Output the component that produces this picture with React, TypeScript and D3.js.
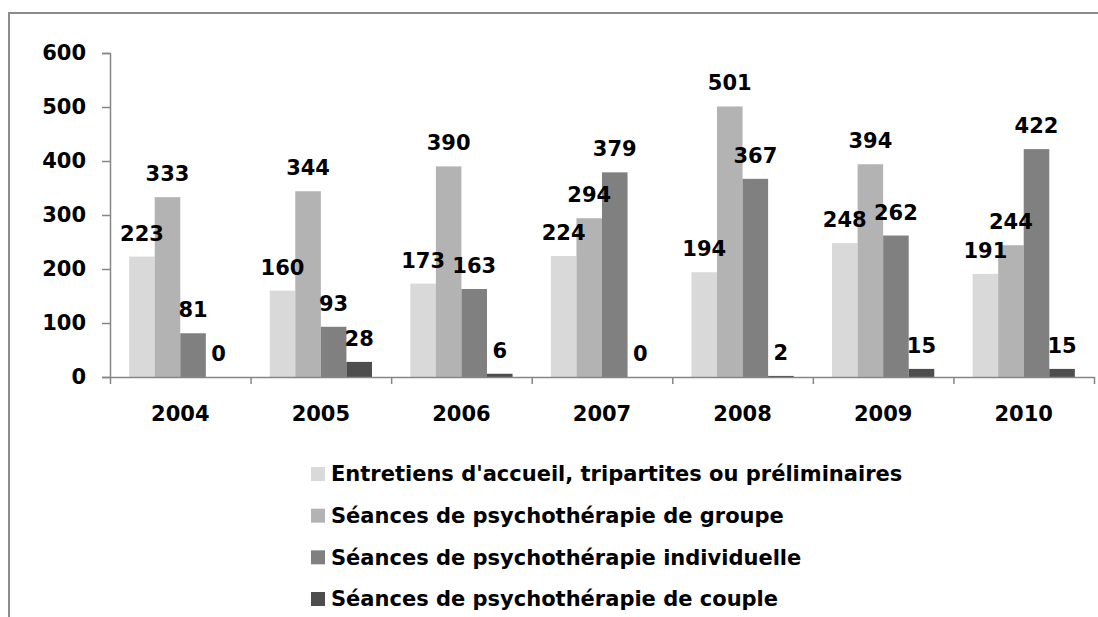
import React, { useRef, useEffect } from 'react';
import * as d3 from 'd3';

const years = ['2004', '2005', '2006', '2007', '2008', '2009', '2010'];
const seriesNames = [
  "Entretiens d'accueil, tripartites ou préliminaires",
  'Séances de psychothérapie de groupe',
  'Séances de psychothérapie individuelle',
  'Séances de psychothérapie de couple',
];
const entretiens = [223, 160, 173, 224, 194, 248, 191];
const groupe = [333, 344, 390, 294, 501, 394, 244];
const individuelle = [81, 93, 163, 379, 367, 262, 422];
const couple = [0, 28, 6, 0, 2, 15, 15];
const yTicks = [0, 100, 200, 300, 400, 500, 600];
const colors = ['#d9d9d9', '#b3b3b3', '#808080', '#4d4d4d'];

const WIDTH = 1098;
const HEIGHT = 617;
const FONT = '"DejaVu Sans", Verdana, sans-serif';

function App() {
  const ref = useRef<SVGSVGElement>(null);

  useEffect(() => {
    const svg = d3.select(ref.current);
    svg.selectAll('*').remove();

    const allSeries = [entretiens, groupe, individuelle, couple];

    const x = d3.scaleBand().domain(years).range([110, 1094]).padding(0);
    const inner = d3
      .scaleBand()
      .domain(d3.range(4).map(String))
      .range([0, x.bandwidth()])
      .paddingInner(0)
      .paddingOuter(0.75);
    const y = d3.scaleLinear().domain([0, 600]).range([377, 53]);

    // chart frame (clipped on right / bottom)
    svg
      .append('path')
      .attr('d', `M9,${HEIGHT} L9,13 L${WIDTH},13`)
      .attr('fill', 'none')
      .attr('stroke', '#8c8c8c')
      .attr('stroke-width', 2);

    // bars
    const groups = svg
      .selectAll('.year')
      .data(years)
      .join('g')
      .attr('class', 'year')
      .attr('transform', d => `translate(${x(d)},0)`);

    allSeries.forEach((vals, s) => {
      groups
        .append('rect')
        .attr('x', inner(String(s)) as number)
        .attr('width', inner.bandwidth())
        .attr('y', (_, i) => y(vals[i]))
        .attr('height', (_, i) => y(0) - y(vals[i]))
        .attr('fill', colors[s]);
    });

    // value labels on top of all bars
    allSeries.forEach((vals, s) => {
      groups
        .append('text')
        .attr('x', (inner(String(s)) as number) + inner.bandwidth() / 2)
        .attr('y', (_, i) => y(vals[i]) - 16)
        .attr('text-anchor', 'middle')
        .attr('font-family', FONT)
        .attr('font-weight', 'bold')
        .attr('font-size', 21)
        .attr('fill', '#000')
        .text((_, i) => vals[i]);
    });

    // y axis
    const yAxis = svg
      .append('g')
      .attr('transform', 'translate(110,0)')
      .call(d3.axisLeft(y).tickValues(yTicks).tickSize(8).tickPadding(16).tickFormat(d3.format('d')));
    yAxis.select('.domain').attr('stroke', '#868686').attr('stroke-width', 1.5);
    yAxis.selectAll('.tick line').attr('stroke', '#868686').attr('stroke-width', 1.5);
    yAxis
      .selectAll('.tick text')
      .attr('font-family', FONT)
      .attr('font-weight', 'bold')
      .attr('font-size', 21)
      .attr('fill', '#000');

    // x axis
    const xAxisScale = d3.scaleLinear().domain([0, years.length]).range([110, 1094]);
    const xAxis = svg
      .append('g')
      .attr('transform', `translate(0,${y(0)})`)
      .call(d3.axisBottom(xAxisScale).tickValues(d3.range(years.length + 1)).tickSize(7).tickFormat(() => '').tickSizeOuter(0));
    xAxis.select('.domain').attr('stroke', '#868686').attr('stroke-width', 1.5);
    xAxis.selectAll('.tick line').attr('stroke', '#868686').attr('stroke-width', 1.5);

    svg
      .append('g')
      .selectAll('text')
      .data(years)
      .join('text')
      .attr('x', d => (x(d) as number) + x.bandwidth() / 2)
      .attr('y', 421)
      .attr('text-anchor', 'middle')
      .attr('font-family', FONT)
      .attr('font-weight', 'bold')
      .attr('font-size', 21)
      .attr('fill', '#000')
      .text(d => d);

    // legend
    const legendY = d3.scaleLinear().domain([0, 3]).range([474, 599]);
    const legend = svg
      .append('g')
      .selectAll('g')
      .data(seriesNames)
      .join('g')
      .attr('transform', (_, i) => `translate(311,${legendY(i)})`);
    legend
      .append('rect')
      .attr('x', 0)
      .attr('y', -7)
      .attr('width', 14)
      .attr('height', 14)
      .attr('fill', (_, i) => colors[i]);
    legend
      .append('text')
      .attr('x', 20)
      .attr('dy', '0.35em')
      .attr('font-family', FONT)
      .attr('font-weight', 'bold')
      .attr('font-size', 21)
      .attr('fill', '#000')
      .text(d => d);
  }, []);

  return (
    <svg
      ref={ref}
      width={WIDTH}
      height={HEIGHT}
      style={{ position: 'absolute', left: 0, top: 0, display: 'block', background: '#fff' }}
    />
  );
}

export default App;
